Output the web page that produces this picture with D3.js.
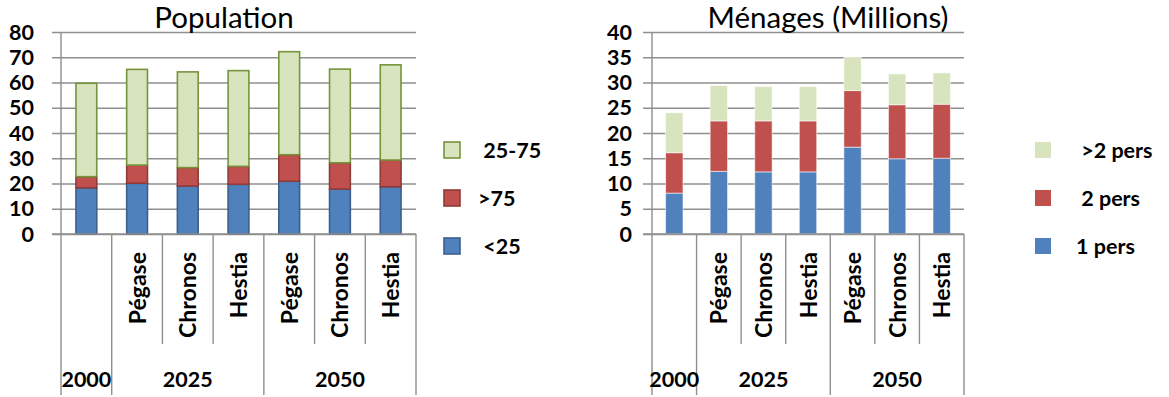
<!DOCTYPE html>
<html>
<head>
<meta charset="utf-8">
<script src="https://cdn.jsdelivr.net/npm/d3@7"></script>
<style>
  body { margin: 0; background: #fff; }
  svg text { font-family: Lato, "Open Sans", sans-serif; white-space: pre; fill: #000; }
</style>
</head>
<body>
<svg id="chart" width="1169" height="397"></svg>
<script>
// Categories: scenario per column, grouped by year
const scenarios = ["", "Pégase", "Chronos", "Hestia", "Pégase", "Chronos", "Hestia"];
const yearLabels = ["2000", "2025", "2050"];
const yearSpans = [1, 3, 3];

// Population (millions) by age band, stacked bottom to top
const popNames = [" <25", ">75", " 25-75"];
const popUnder25 = [18.3, 20.1, 19.0, 19.7, 20.9, 17.8, 18.7];
const popOver75 = [4.4, 7.2, 7.3, 7.1, 10.5, 10.4, 10.6];
const pop25to75 = [37.0, 37.9, 37.9, 37.9, 40.8, 37.1, 37.7];
const popTicks = [0, 10, 20, 30, 40, 50, 60, 70, 80];

// Households (millions) by size, stacked bottom to top
const hhNames = ["1 pers", " 2 pers", " >2 pers"];
const hhOne = [8.1, 12.4, 12.3, 12.3, 17.2, 14.9, 15.0];
const hhTwo = [8.0, 10.0, 10.1, 10.1, 11.2, 10.7, 10.7];
const hhMore = [7.9, 7.0, 6.8, 6.8, 6.6, 6.1, 6.2];
const hhTicks = [0, 5, 10, 15, 20, 25, 30, 35, 40];

const fills = ["#4f81bd", "#c0504d", "#d7e4bd"];
const darkStrokes = ["#3b5f8c", "#8e3b39", "#77933c"];

const svg = d3.select("#chart");
const gridColor = "#8f8f8f";

function drawPanel(o) {
  const g = svg.append("g");
  const idx = d3.range(scenarios.length);
  const x = d3.scaleBand().domain(idx).range([o.x0, o.x1]).paddingInner(0).paddingOuter(0);
  const y = d3.scaleLinear().domain([0, d3.max(o.ticks)]).range([o.yBase, o.yTop]);

  // horizontal gridlines with outward ticks
  const yAxis = d3.axisLeft(y).tickValues(o.ticks).tickSize(-(o.x1 - o.x0)).tickFormat("");
  const ga = g.append("g").attr("transform", `translate(${o.x0},0)`).call(yAxis);
  ga.select(".domain").remove();
  ga.selectAll(".tick line").attr("stroke", gridColor).attr("stroke-width", 1.4)
    .attr("x1", -9);

  // tick labels
  g.selectAll(".ylab").data(o.ticks).join("text")
    .attr("class", "ylab")
    .attr("x", o.x0 - o.labelGap)
    .attr("y", d => y(d))
    .attr("dy", "0.36em")
    .attr("text-anchor", "end")
    .attr("font-weight", 700)
    .attr("font-size", 21.5)
    .text(d => d);

  // vertical axis line
  g.append("line").attr("x1", o.x0).attr("x2", o.x0).attr("y1", o.yTop).attr("y2", o.yBase)
    .attr("stroke", gridColor).attr("stroke-width", 1.4);

  // stacked bars
  const table = idx.map(i => {
    const row = { i };
    o.series.forEach((s, k) => row[k] = s[i]);
    return row;
  });
  const stacked = d3.stack().keys(o.series.map((s, k) => k))(table);
  const bw = x.bandwidth() * o.barRatio;
  stacked.forEach((layer, k) => {
    g.append("g").selectAll("rect").data(layer).join("rect")
      .attr("x", d => x(d.data.i) + (x.bandwidth() - bw) / 2)
      .attr("width", bw)
      .attr("y", d => y(d[1]))
      .attr("height", d => y(d[0]) - y(d[1]))
      .attr("fill", fills[k])
      .attr("stroke", o.outlined ? darkStrokes[k] : "rgba(255,255,255,0.55)")
      .attr("stroke-width", o.outlined ? 1.6 : 1);
  });

  // category axis: baseline and dividers
  g.append("line").attr("x1", o.x0 - 9).attr("x2", o.x1).attr("y1", o.yBase).attr("y2", o.yBase)
    .attr("stroke", gridColor).attr("stroke-width", 1.4);
  const groupEdges = d3.cumsum([0, ...yearSpans]);
  d3.range(scenarios.length + 1).forEach(b => {
    const bx = b < scenarios.length ? x(b) : o.x1;
    const full = groupEdges.includes(b);
    g.append("line").attr("x1", bx).attr("x2", bx)
      .attr("y1", o.yBase).attr("y2", full ? 395 : 344)
      .attr("stroke", gridColor).attr("stroke-width", 1.4);
  });

  // scenario labels, rotated
  g.selectAll(".scen").data(idx.filter(i => scenarios[i])).join("text")
    .attr("class", "scen")
    .attr("transform", i => `translate(${x(i) + x.bandwidth() / 2 + 8.5},252) rotate(-90)`)
    .attr("text-anchor", "end")
    .attr("font-weight", 700)
    .attr("font-size", 23)
    .text(i => scenarios[i]);

  // year labels
  yearLabels.forEach((lab, k) => {
    const a = groupEdges[k], b = groupEdges[k + 1];
    const left = x(a), right = b < scenarios.length ? x(b) : o.x1;
    g.append("text")
      .attr("x", (left + right) / 2).attr("y", 387)
      .attr("text-anchor", "middle")
      .attr("font-weight", 700).attr("font-size", 21.5)
      .text(lab);
  });

  // title
  g.append("text").attr("x", o.titleX).attr("y", 28)
    .attr("text-anchor", "middle")
    .attr("font-size", 29.5).text(o.title);

  // legend, top entry is the top of the stack
  [2, 1, 0].forEach((k, row) => {
    const ly = 142 + row * 48;
    g.append("rect").attr("x", o.legendX).attr("y", ly).attr("width", 16).attr("height", 16)
      .attr("fill", fills[k])
      .attr("stroke", o.outlined ? darkStrokes[k] : "none")
      .attr("stroke-width", 1.6);
    g.append("text").attr("x", o.legendTextX).attr("y", ly + 8).attr("dy", "0.36em")
      .attr("font-weight", 700).attr("font-size", 21.5)
      .text(o.names[k]);
  });
}

drawPanel({
  x0: 61, x1: 416, yTop: 32, yBase: 234,
  ticks: popTicks, series: [popUnder25, popOver75, pop25to75], names: popNames,
  barRatio: 0.41, outlined: true, labelGap: 27,
  title: "Population", titleX: 224,
  legendX: 444, legendTextX: 478
});

drawPanel({
  x0: 652, x1: 964, yTop: 32, yBase: 234,
  ticks: hhTicks, series: [hhOne, hhTwo, hhMore], names: hhNames,
  barRatio: 0.39, outlined: false, labelGap: 20,
  title: "Ménages (Millions)", titleX: 828,
  legendX: 1035, legendTextX: 1076
});
</script>
</body>
</html>
